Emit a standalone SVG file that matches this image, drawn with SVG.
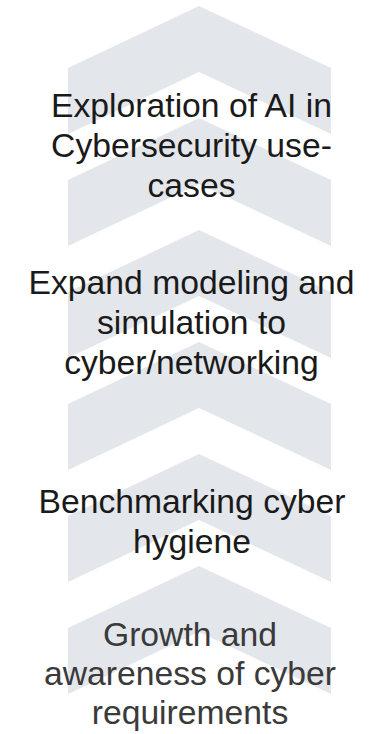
<svg xmlns="http://www.w3.org/2000/svg" width="370" height="734" viewBox="0 0 370 734">
<style>
.chev{fill:#E3E6EB}
.t{font-family:"Liberation Sans",Arial,sans-serif;font-size:33.7px;fill:#1a1a1a;text-anchor:middle}
.t4{fill:#3a3a3a}
</style>
<rect width="370" height="734" fill="#ffffff"/>
<g id="chevrons">
<polygon id="chev1" class="chev" points="68,68 199,6 331,68 331,134 199,72 68,134"/>
<polygon id="chev2" class="chev" points="68,180 199,118 331,180 331,246 199,184 68,246"/>
<polygon id="chev3" class="chev" points="68,292 199,230 331,292 331,358 199,296 68,358"/>
<polygon id="chev4" class="chev" points="68,404 199,342 331,404 331,470 199,408 68,470"/>
<polygon id="chev5" class="chev" points="68,516 199,454 331,516 331,582 199,520 68,582"/>
<polygon id="chev6" class="chev" points="68,628 199,566 331,628 331,694 199,632 68,694"/>
</g>
<g id="node1">
<text class="t" x="191.5" y="117">Exploration of AI in</text>
<text class="t" x="191.5" y="157">Cybersecurity use-</text>
<text class="t" x="191.5" y="197">cases</text>
</g>
<g id="node2">
<text class="t" x="191.5" y="294">Expand modeling and</text>
<text class="t" x="191.5" y="334">simulation to</text>
<text class="t" x="191.5" y="374">cyber/networking</text>
</g>
<g id="node3">
<text class="t" x="192" y="513">Benchmarking cyber</text>
<text class="t" x="192" y="553">hygiene</text>
</g>
<g id="node4">
<text class="t t4" x="190" y="646">Growth and</text>
<text class="t t4" x="190" y="685">awareness of cyber</text>
<text class="t t4" x="190" y="724">requirements</text>
</g>
</svg>
